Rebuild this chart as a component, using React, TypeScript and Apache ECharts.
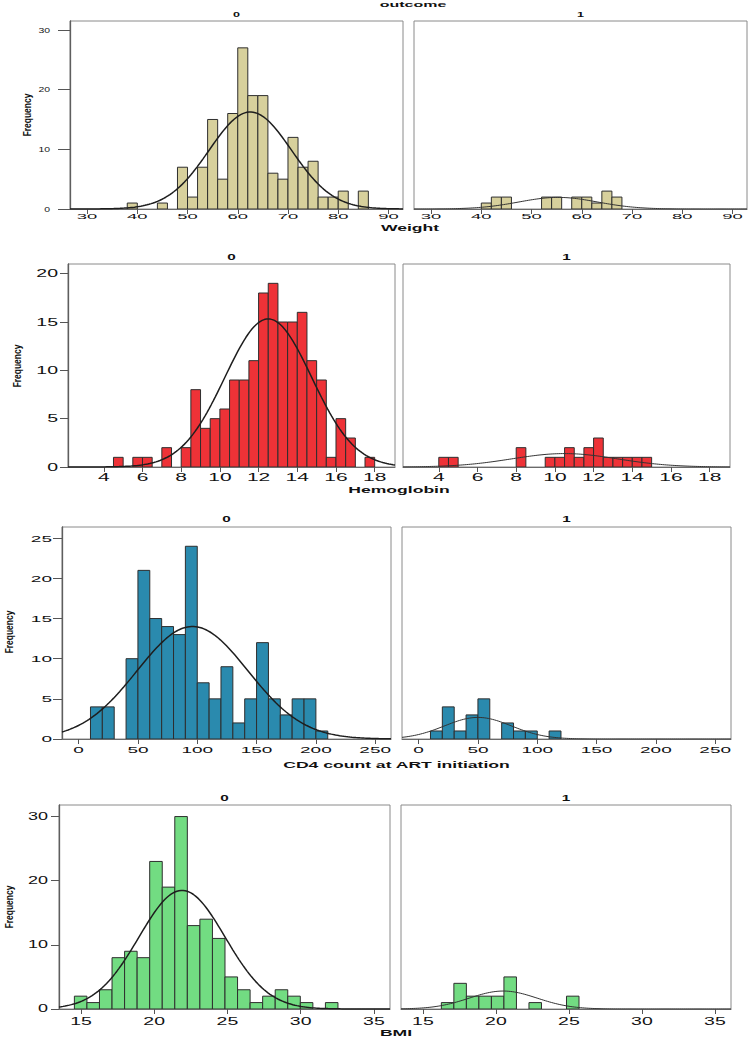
import React, { useEffect, useRef } from "react";
import * as echarts from "echarts";

// ---------- data ----------
const outcomeTitle = "outcome";
const outcomeLevels = ["0", "1"];
const variableNames = ["Weight", "Hemoglobin", "CD4 count at ART initiation", "BMI"];

// Weight: bins of width 2 starting at 38
const weightBinStart = 38;
const weightBinWidth = 2;
const weightCounts0 = [1, 0, 0, 1, 0, 7, 2, 7, 15, 5, 16, 27, 19, 19, 6, 5, 12, 7, 8, 2, 2, 3, 0, 3];
const weightCounts1 = [0, 1, 2, 2, 0, 0, 0, 2, 2, 0, 2, 2, 1, 3, 2];
const weightFit = [[62.5, 8.2], [55.3, 7.8]]; // [mean, sd] per outcome
const weightTicks = [30, 40, 50, 60, 70, 80, 90];
const weightFreqTicks = [0, 10, 20, 30];

// Hemoglobin: bins of width 0.5 starting at 4.0
const hbBinStart = 4.0;
const hbBinWidth = 0.5;
const hbCounts0 = [0, 1, 0, 1, 1, 0, 2, 0, 2, 8, 4, 5, 6, 9, 9, 11, 18, 19, 15, 15, 16, 11, 9, 1, 5, 3, 0, 1];
const hbCounts1 = [1, 1, 0, 0, 0, 0, 0, 0, 2, 0, 0, 1, 1, 2, 1, 2, 3, 1, 1, 1, 1, 1];
const hbFit = [[12.5, 2.24], [10.5, 2.73]];
const hbTicks = [4, 6, 8, 10, 12, 14, 16, 18];
const hbFreqTicks = [0, 5, 10, 15, 20];

// CD4: bins of width 10 starting at 10
const cd4BinStart = 10;
const cd4BinWidth = 10;
const cd4Counts0 = [4, 4, 0, 10, 21, 15, 14, 13, 24, 7, 5, 9, 2, 5, 12, 5, 3, 5, 5, 1];
const cd4Counts1 = [1, 4, 1, 3, 5, 0, 2, 1, 1, 0, 1];
const cd4Fit = [[96, 46.7], [50, 28.2]];
const cd4Ticks = [0, 50, 100, 150, 200, 250];
const cd4FreqTicks = [0, 5, 10, 15, 20, 25];

// BMI: bins of width 0.857 starting at 14.55
const bmiBinStart = 14.55;
const bmiBinWidth = 0.857;
const bmiCounts0 = [2, 1, 3, 8, 9, 8, 23, 19, 30, 13, 14, 11, 5, 3, 1, 2, 3, 2, 1, 0, 1];
const bmiCounts1 = [0, 0, 1, 4, 2, 2, 2, 5, 0, 1, 0, 0, 2];
const bmiFit = [[21.9, 2.94], [20.5, 2.32]];
const bmiTicks = [15, 20, 25, 30, 35];
const bmiFreqTicks = [0, 10, 20, 30];

// ---------- styles / layout ----------
const FONT = "'Liberation Sans', Arial, Helvetica, sans-serif";
const barColors = ["#d7d09c", "#ee3237", "#2a8aae", "#72dc82"];

const rows = [
  { start: weightBinStart, width: weightBinWidth, counts: [weightCounts0, weightCounts1], fit: weightFit, xTicks: weightTicks, yTicks: weightFreqTicks },
  { start: hbBinStart, width: hbBinWidth, counts: [hbCounts0, hbCounts1], fit: hbFit, xTicks: hbTicks, yTicks: hbFreqTicks },
  { start: cd4BinStart, width: cd4BinWidth, counts: [cd4Counts0, cd4Counts1], fit: cd4Fit, xTicks: cd4Ticks, yTicks: cd4FreqTicks },
  { start: bmiBinStart, width: bmiBinWidth, counts: [bmiCounts0, bmiCounts1], fit: bmiFit, xTicks: bmiTicks, yTicks: bmiFreqTicks },
];

const layout = [
  { top: 21, height: 188, left: [70, 414], w: [333, 333], xMin: 26.6, xMax: 92.9, yMax: 31.5,
    titleY: 15, titleSize: 7, nameX: 410, nameY: 228, xLabOff: 7, xLabSize: 8, xLabScale: 2.3,
    yLabGap: 20, yLabSize: 8, yLabScale: 1.3, yTick: 12, freqX: 27, freqY: 115 },
  { top: 264, height: 203, left: [68, 403], w: [327, 327], xMin: 2.15, xMax: 19.05, yMax: 21,
    titleY: 257, titleSize: 8.5, nameX: 399, nameY: 490, xLabOff: 11, xLabSize: 10.5, xLabScale: 2.0,
    yLabGap: 10, yLabSize: 10.5, yLabScale: 1.86, yTick: 8, freqX: 17, freqY: 366 },
  { top: 527, height: 212, left: [62, 402], w: [329, 329], xMin: -14, xMax: 263.3, yMax: 26.4,
    titleY: 519, titleSize: 8.5, nameX: 396.5, nameY: 765, xLabOff: 11, xLabSize: 9.5, xLabScale: 2.0,
    yLabGap: 10, yLabSize: 9.5, yLabScale: 2.0, yTick: 9, freqX: 9, freqY: 632 },
  { top: 805, height: 204, left: [59, 401], w: [331, 330], xMin: 13.5, xMax: 36.1, yMax: 31.8,
    titleY: 798, titleSize: 8.5, nameX: 396, nameY: 1033, xLabOff: 12, xLabSize: 10, xLabScale: 1.95,
    yLabGap: 11, yLabSize: 10, yLabScale: 1.8, yTick: 8, freqX: 9, freqY: 907 },
];

function normalCurve(mean: number, sd: number, n: number, bw: number, lo: number, hi: number) {
  const pts: number[][] = [];
  const steps = 160;
  const k = (n * bw) / (sd * Math.sqrt(2 * Math.PI));
  for (let i = 0; i <= steps; i++) {
    const x = lo + ((hi - lo) * i) / steps;
    const z = (x - mean) / sd;
    pts.push([x, k * Math.exp(-0.5 * z * z)]);
  }
  return pts;
}

function buildOption() {
  const grids: any[] = [];
  const xAxes: any[] = [];
  const yAxes: any[] = [];
  const series: any[] = [];
  rows.forEach((row, r) => {
    const L = layout[r];
    [0, 1].forEach((p) => {
      const gi = r * 2 + p;
      grids.push({
        left: L.left[p], top: L.top, width: L.w[p], height: L.height,
        show: true, borderColor: "#8a8a8a", borderWidth: 1, backgroundColor: "transparent",
      });
      xAxes.push({
        type: "value", gridIndex: gi, min: L.xMin, max: L.xMax,
        axisLine: { show: true, onZero: false, lineStyle: { color: "#6a6a6a", width: 1 } },
        axisTick: { show: true, length: 5, customValues: row.xTicks, lineStyle: { color: "#555" } },
        axisLabel: { show: false },
        splitLine: { show: false },
      });
      yAxes.push({
        type: "value", gridIndex: gi, min: 0, max: L.yMax,
        show: p === 0,
        axisLine: { show: p === 0, onZero: false, lineStyle: { color: "#5e5e5e", width: 1.3 } },
        axisTick: { show: p === 0, length: L.yTick, customValues: row.yTicks, lineStyle: { color: "#555" } },
        axisLabel: { show: false },
        splitLine: { show: false },
      });
      const counts = row.counts[p];
      const data = counts
        .map((c, i) => [row.start + i * row.width, row.start + (i + 1) * row.width, c])
        .filter((d) => d[2] > 0);
      const color = barColors[r];
      series.push({
        type: "custom", xAxisIndex: gi, yAxisIndex: gi, z: 2, clip: true,
        data,
        renderItem: (params: any, api: any) => {
          const a = api.coord([api.value(0), api.value(2)]);
          const b = api.coord([api.value(1), 0]);
          return {
            type: "rect",
            shape: { x: a[0], y: a[1], width: b[0] - a[0], height: b[1] - a[1] },
            style: { fill: color, stroke: "#2e2e2e", lineWidth: 1 },
          };
        },
      });
      const n = counts.reduce((s, v) => s + v, 0);
      const [mean, sd] = row.fit[p];
      series.push({
        type: "line", xAxisIndex: gi, yAxisIndex: gi, z: 3,
        showSymbol: false, symbol: "none", silent: true,
        data: normalCurve(mean, sd, n, row.width, L.xMin, L.xMax),
        lineStyle: { color: p === 0 ? "#1e1e1e" : "#333", width: p === 0 ? 1.5 : 1 },
      });
    });
  });
  return {
    animation: false,
    backgroundColor: "#ffffff",
    grid: grids,
    xAxis: xAxes,
    yAxis: yAxes,
    series,
  };
}

function textEl(text: string, x: number, y: number, size: number, scaleX: number, opts: any = {}) {
  return {
    type: "text",
    x, y, scaleX,
    rotation: opts.rotation || 0,
    silent: true,
    style: {
      text,
      fontSize: size,
      fontFamily: FONT,
      fontWeight: opts.bold ? "bold" : "normal",
      fill: "#111",
      textAlign: opts.align || "center",
      align: opts.align || "center",
      textVerticalAlign: "middle",
      verticalAlign: "middle",
    },
  };
}

export default function App() {
  const ref = useRef<HTMLDivElement>(null);
  useEffect(() => {
    document.body.style.margin = "0";
    if (!ref.current) return;
    const chart = echarts.init(ref.current, undefined, { renderer: "svg" });
    chart.setOption(buildOption());

    const els: any[] = [];
    els.push(textEl(outcomeTitle, 413, 4, 8, 2.0, { bold: true }));
    rows.forEach((row, r) => {
      const L = layout[r];
      [0, 1].forEach((p) => {
        const gi = r * 2 + p;
        const cx = L.left[p] + L.w[p] / 2;
        els.push(textEl(outcomeLevels[p], cx, L.titleY, L.titleSize, 1.8, { bold: true }));
        row.xTicks.forEach((v) => {
          const pt = chart.convertToPixel({ gridIndex: gi }, [v, 0]) as number[];
          els.push(textEl(String(v), pt[0], pt[1] + L.xLabOff, L.xLabSize, L.xLabScale));
        });
        if (p === 0) {
          row.yTicks.forEach((v) => {
            const pt = chart.convertToPixel({ gridIndex: gi }, [L.xMin, v]) as number[];
            els.push(textEl(String(v), pt[0] - L.yLabGap, pt[1], L.yLabSize, L.yLabScale, { align: "right" }));
          });
        }
      });
      els.push(textEl(variableNames[r], L.nameX, L.nameY, 9.5, 1.85, { bold: true }));
      els.push(textEl("Frequency", L.freqX, L.freqY, 11, 0.77, { bold: true, rotation: Math.PI / 2 }));
    });
    chart.setOption({ graphic: { elements: els } });

    return () => chart.dispose();
  }, []);
  return <div ref={ref} style={{ width: 752, height: 1038 }} />;
}
